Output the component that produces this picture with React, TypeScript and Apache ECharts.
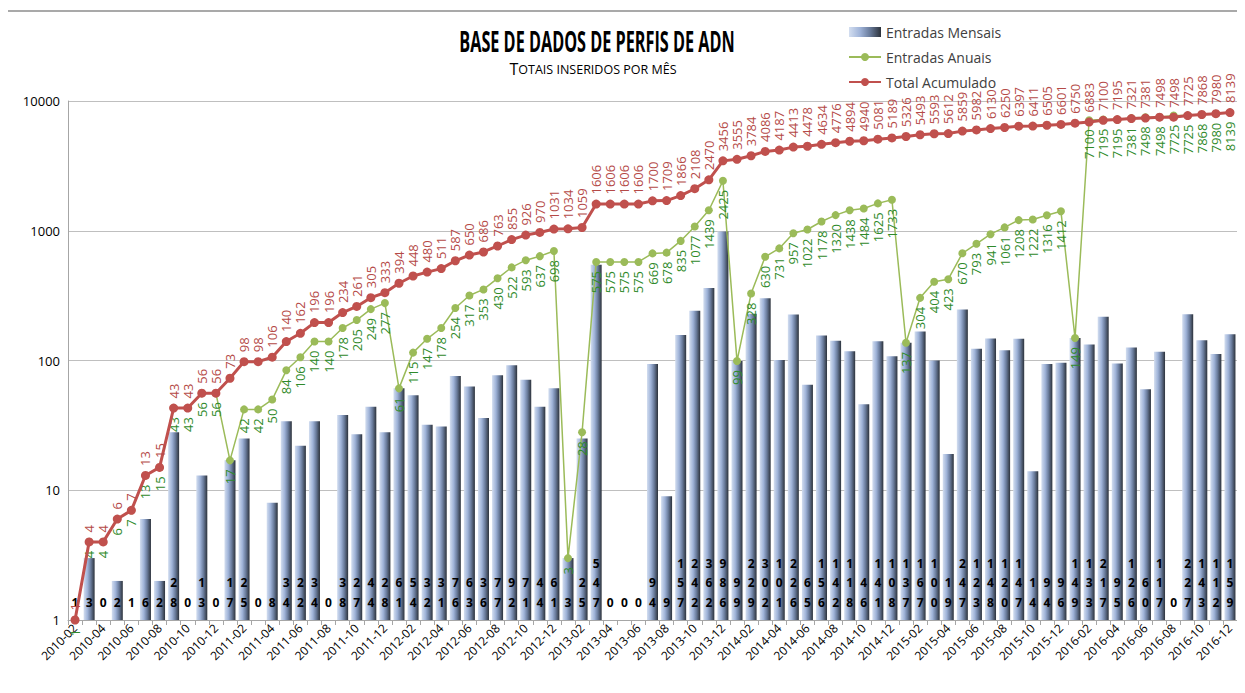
import React, { useEffect, useRef } from "react";
import * as echarts from "echarts";

const months: string[] = [];
for (let y = 2010; y <= 2016; y++) {
  for (let m = y === 2010 ? 2 : 1; m <= 12; m++) {
    months.push(`${y}-${m < 10 ? "0" + m : m}`);
  }
}

const monthly = [
  1, 3, 0, 2, 1, 6, 2, 28, 0, 13, 0,
  17, 25, 0, 8, 34, 22, 34, 0, 38, 27, 44, 28,
  61, 54, 32, 31, 76, 63, 36, 77, 92, 71, 44, 61,
  3, 25, 547, 0, 0, 0, 94, 9, 157, 242, 362, 986,
  99, 229, 302, 101, 226, 65, 156, 142, 118, 46, 141, 108,
  137, 167, 100, 19, 247, 123, 148, 120, 147, 14, 94, 96,
  149, 133, 217, 95, 126, 60, 117, 0, 227, 143, 112, 159,
];

const annual = [
  1, 4, 4, 6, 7, 13, 15, 43, 43, 56, 56,
  17, 42, 42, 50, 84, 106, 140, 140, 178, 205, 249, 277,
  61, 115, 147, 178, 254, 317, 353, 430, 522, 593, 637, 698,
  3, 28, 575, 575, 575, 575, 669, 678, 835, 1077, 1439, 2425,
  99, 328, 630, 731, 957, 1022, 1178, 1320, 1438, 1484, 1625, 1733,
  137, 304, 404, 423, 670, 793, 941, 1061, 1208, 1222, 1316, 1412,
  149, 7100, 7195, 7195, 7381, 7498, 7498, 7725, 7725, 7868, 7980, 8139,
];

const total = [
  1, 4, 4, 6, 7, 13, 15, 43, 43, 56, 56,
  73, 98, 98, 106, 140, 162, 196, 196, 234, 261, 305, 333,
  394, 448, 480, 511, 587, 650, 686, 763, 855, 926, 970, 1031,
  1034, 1059, 1606, 1606, 1606, 1606, 1700, 1709, 1866, 2108, 2470, 3456,
  3555, 3784, 4086, 4187, 4413, 4478, 4634, 4776, 4894, 4940, 5081, 5189,
  5326, 5493, 5593, 5612, 5859, 5982, 6130, 6250, 6397, 6411, 6505, 6601,
  6750, 6883, 7100, 7195, 7321, 7381, 7498, 7498, 7725, 7868, 7980, 8139,
];

const yTicks = [1, 10, 100, 1000, 10000];

export default function App() {
  const ref = useRef<HTMLDivElement>(null);
  useEffect(() => {
    if (!ref.current) return;
    const chart = echarts.init(ref.current, undefined, { renderer: "svg" });
    const barGrad = new echarts.graphic.LinearGradient(0, 0, 1, 0, [
      { offset: 0, color: "#d3def0" },
      { offset: 0.35, color: "#9fb3d8" },
      { offset: 0.65, color: "#6a7c9c" },
      { offset: 1, color: "#2c323b" },
    ]);
    chart.setOption({
      animation: false,
      backgroundColor: "#ffffff",
      textStyle: { fontFamily: "'Open Sans', 'DejaVu Sans', sans-serif" },
      graphic: [
        {
          type: "line",
          shape: { x1: 0, y1: 11, x2: 1245, y2: 11 },
          style: { stroke: "#8c8c8c", lineWidth: 1.5 },
        },
        {
          type: "text",
          x: 597,
          y: 42,
          scaleX: 0.58,
          style: {
            text: "BASE DE DADOS DE PERFIS DE ADN",
            font: "bold 28px 'Open Sans', sans-serif",
            fill: "#000",
            align: "center",
            verticalAlign: "middle",
          },
        },
        {
          type: "text",
          x: 593,
          y: 69,
          style: {
            text: "{b|T}{s|OTAIS INSERIDOS POR MÊS}",
            align: "center",
            verticalAlign: "middle",
            rich: {
              b: { fontSize: 16, fontFamily: "'Open Sans', sans-serif", fill: "#000" },
              s: { fontSize: 12.5, fontFamily: "'Open Sans', sans-serif", fill: "#000" },
            },
          },
        },
      ],
      legend: {
        orient: "vertical",
        left: 843,
        top: 20,
        itemGap: 11,
        itemWidth: 32,
        itemHeight: 10,
        textStyle: { fontSize: 14, color: "#404040" },
        data: [
          { name: "Entradas Mensais", icon: "rect" },
          { name: "Entradas Anuais" },
          { name: "Total Acumulado" },
        ],
      },
      grid: { left: 68, right: 8, top: 101, bottom: 73, containLabel: false },
      xAxis: {
        type: "category",
        data: months,
        axisLine: { lineStyle: { color: "#a6a6a6" } },
        axisTick: { show: true, interval: 0, lineStyle: { color: "#a6a6a6" } },
        axisLabel: { interval: 1, rotate: 45, fontSize: 12, color: "#000", margin: 6 },
      },
      yAxis: {
        type: "log",
        logBase: 10,
        min: yTicks[0],
        max: yTicks[yTicks.length - 1],
        axisLine: { show: true, lineStyle: { color: "#a6a6a6" } },
        axisTick: { show: false },
        splitLine: { lineStyle: { color: "#bfbfbf", width: 1.2 } },
        minorSplitLine: { show: false },
        axisLabel: { fontSize: 13, color: "#000", margin: 8, formatter: (v: number) => String(v) },
      },
      series: [
        {
          name: "Entradas Mensais",
          type: "bar",
          barWidth: 11,
          itemStyle: { color: barGrad },
          data: monthly.map((v) => Math.max(v, 1)),
          z: 1,
          label: {
            show: true,
            position: "insideBottom",
            distance: 8,
            fontSize: 12,
            fontWeight: "bold",
            lineHeight: 19.5,
            color: "#000",
            formatter: (p: any) => String(monthly[p.dataIndex]).split("").join("\n"),
          },
        },
        {
          name: "Entradas Anuais",
          type: "line",
          data: annual,
          z: 3,
          symbol: "circle",
          symbolSize: 8,
          lineStyle: { color: "#9bbb59", width: 1.5 },
          itemStyle: { color: "#9bbb59" },
          label: {
            show: true,
            position: "bottom",
            distance: 5,
            rotate: 90,
            align: "right",
            verticalAlign: "middle",
            fontSize: 13,
            color: "#2f8a2a",
          },
        },
        {
          name: "Total Acumulado",
          type: "line",
          data: total,
          z: 4,
          symbol: "circle",
          symbolSize: 9,
          lineStyle: { color: "#c0504d", width: 3 },
          itemStyle: { color: "#c0504d" },
          label: {
            show: true,
            position: "top",
            distance: 5,
            rotate: 90,
            align: "left",
            verticalAlign: "middle",
            fontSize: 13,
            color: "#b54a47",
          },
        },
      ],
    });
    return () => chart.dispose();
  }, []);
  return <div ref={ref} style={{ width: 1245, height: 693, margin: -8 }} />;
}
